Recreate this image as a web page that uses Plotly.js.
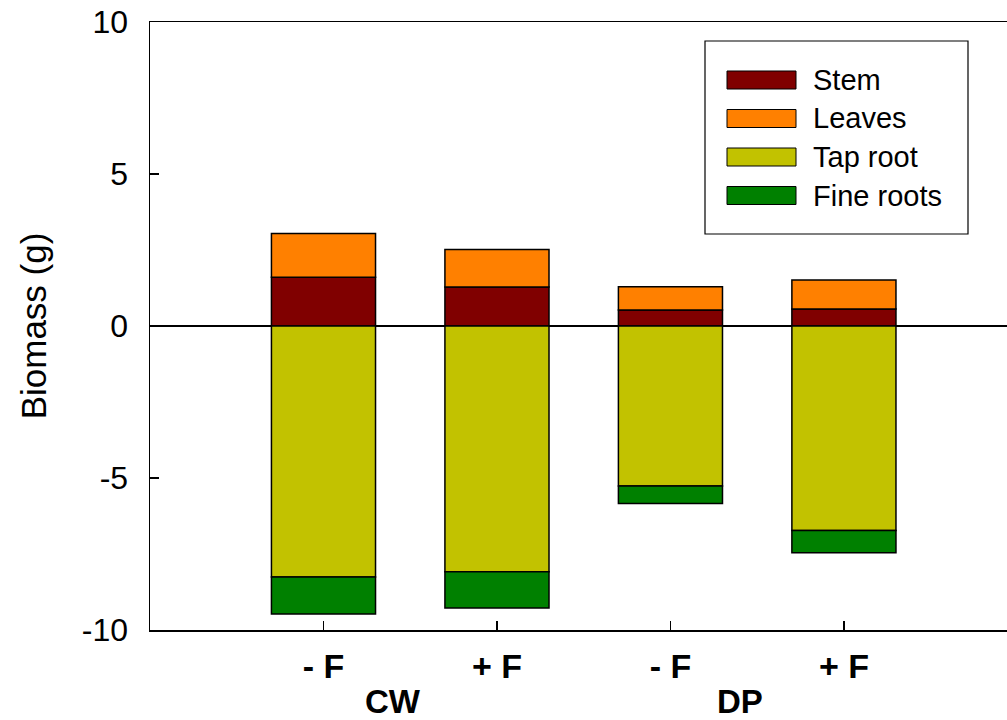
<!DOCTYPE html>
<html>
<head>
<meta charset="utf-8">
<script src="https://cdn.plot.ly/plotly-3.0.1.min.js"></script>
<style>html,body{margin:0;padding:0;background:#fff;}#chart{width:1007px;height:720px;}</style>
</head>
<body>
<div id="chart"></div>
<script>
// ---- data ----
const categories = ['- F', '+ F', '- F', '+ F'];
const groups = ['CW', 'DP'];
const stem = [1.60, 1.28, 0.53, 0.56];
const leaves = [1.44, 1.24, 0.76, 0.95];
const tapRoot = [-8.26, -8.08, -5.26, -6.73];
const fineRoots = [-1.21, -1.20, -0.58, -0.73];
const seriesNames = ['Stem', 'Leaves', 'Tap root', 'Fine roots'];
const yTickVals = [-10, -5, 0, 5, 10];
const yTickText = ['-10', '-5', '0', '5', '10'];

// ---- styles ----
const colors = ['#800000', '#FF8000', '#C2C200', '#008000'];
const FONT = 'Liberation Sans, Arial, Helvetica, sans-serif';
const W = 1007, H = 720;
const M = {l: 150, r: 0, t: 22, b: 90};
const pw = W - M.l - M.r, ph = H - M.t - M.b;
const px = x => (x - M.l) / pw;
const py = y => (H - M.b - y) / ph;

const xIdx = categories.map((_, i) => i);
const seriesVals = [stem, leaves, tapRoot, fineRoots];

const traces = seriesVals.map((vals, k) => ({
  type: 'bar',
  x: xIdx,
  y: vals,
  name: seriesNames[k],
  width: 0.6,
  marker: {color: colors[k], line: {color: '#000', width: 1.5}},
  showlegend: false,
  hoverinfo: 'name+y'
}));

// custom legend (shapes + text)
const shapes = [];
const annotations = [];
shapes.push({type: 'rect', xref: 'paper', yref: 'paper',
  x0: px(705), x1: px(968), y0: py(41), y1: py(234),
  line: {color: '#000', width: 1.2}, fillcolor: '#fff', layer: 'above'});
seriesNames.forEach((n, k) => {
  const cy = 80 + k * 38.5;
  shapes.push({type: 'rect', xref: 'paper', yref: 'paper',
    x0: px(727), x1: px(796), y0: py(cy - 9), y1: py(cy + 9),
    line: {color: '#000', width: 1}, fillcolor: colors[k], layer: 'above'});
  annotations.push({xref: 'paper', yref: 'paper', x: px(811), y: py(cy),
    xanchor: 'left', yanchor: 'middle', text: n, showarrow: false,
    font: {family: FONT, size: 29, color: '#000'}});
});
// group labels
groups.forEach((g, i) => {
  annotations.push({xref: 'x', yref: 'paper', x: i * 2 + 0.4, y: 0, yshift: -71,
    xanchor: 'center', yanchor: 'middle', text: '<b>' + g + '</b>', showarrow: false,
    font: {family: FONT, size: 33, color: '#000'}});
});

const layout = {
  width: W, height: H,
  margin: M,
  paper_bgcolor: '#fff', plot_bgcolor: '#fff',
  barmode: 'relative',
  font: {family: FONT, color: '#000'},
  xaxis: {
    range: [-1, 3.94],
    tickvals: xIdx,
    ticktext: categories.map(c => '<b>' + c + '</b>'),
    tickfont: {family: FONT, size: 34, color: '#000'},
    showline: true, mirror: true, linecolor: '#000', linewidth: 1.5,
    ticks: 'inside', ticklen: 9, tickwidth: 1.5, tickcolor: '#000',
    showgrid: false, zeroline: false,
    ticklabelstandoff: 6
  },
  yaxis: {
    range: [-10, 10],
    tickvals: yTickVals, ticktext: yTickText,
    tickfont: {family: FONT, size: 32, color: '#000'},
    showline: true, mirror: false, linecolor: '#000', linewidth: 1.5,
    ticks: 'inside', ticklen: 9, tickwidth: 1.5, tickcolor: '#000',
    showgrid: false,
    zeroline: true, zerolinecolor: '#000', zerolinewidth: 1.5,
    ticklabelstandoff: 14,
    title: {text: 'Biomass (g)', font: {family: FONT, size: 35, color: '#000'}, standoff: 24}
  },
  shapes: shapes,
  annotations: annotations,
  showlegend: false
};

Plotly.newPlot('chart', traces, layout, {displayModeBar: false, staticPlot: true});
</script>
</body>
</html>
